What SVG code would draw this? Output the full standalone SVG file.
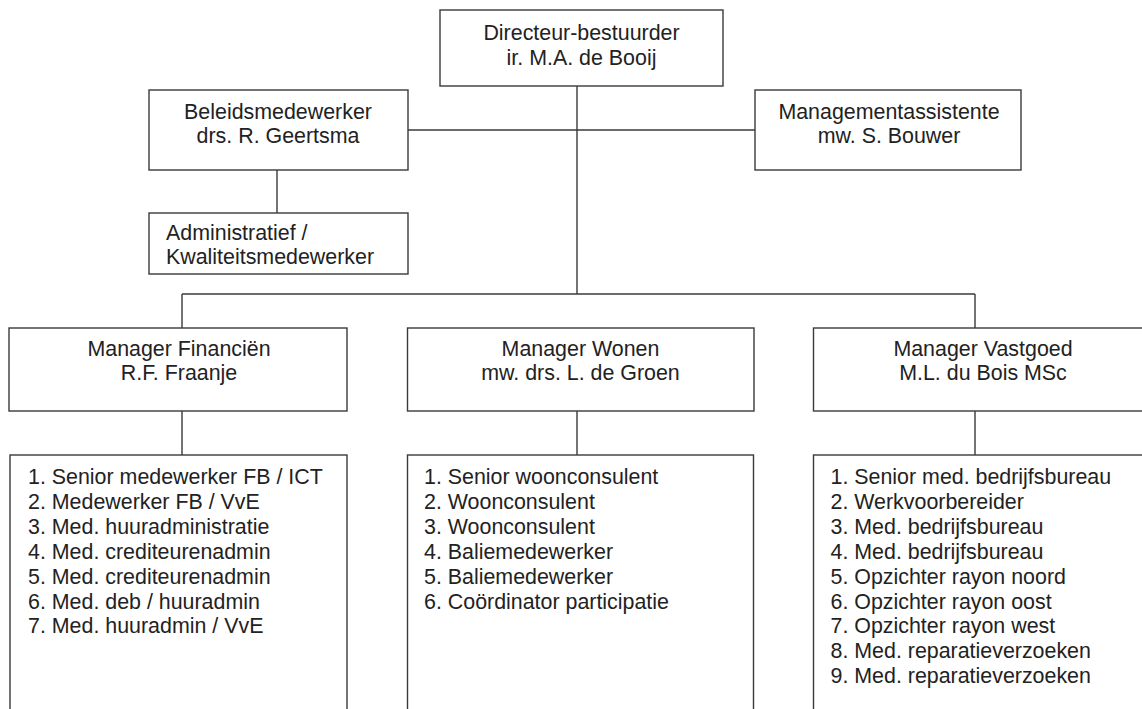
<svg xmlns="http://www.w3.org/2000/svg" width="1142" height="709" viewBox="0 0 1142 709">
<style>
.box{fill:#fff;stroke:#3a3a3a;stroke-width:1.4}
.ln{stroke:#3a3a3a;stroke-width:1.4;fill:none}
text{font-family:"Liberation Sans",Arial,sans-serif;font-size:21.4px;fill:#222}
.c{text-anchor:middle}
</style>
<rect width="1142" height="709" fill="#fff"/>
<g id="connectors">
<line class="ln" x1="577" y1="86" x2="577" y2="294"/>
<line class="ln" x1="408" y1="130" x2="755" y2="130"/>
<line class="ln" x1="277" y1="170" x2="277" y2="213"/>
<line class="ln" x1="182" y1="294" x2="975" y2="294"/>
<line class="ln" x1="182" y1="294" x2="182" y2="328"/>
<line class="ln" x1="975" y1="294" x2="975" y2="328"/>
<line class="ln" x1="182" y1="411" x2="182" y2="455"/>
<line class="ln" x1="577" y1="411" x2="577" y2="455"/>
<line class="ln" x1="975" y1="411" x2="975" y2="455"/>
</g>
<g id="directeur">
<rect class="box" x="440" y="10" width="283" height="76"/>
<text class="c" x="581.5" y="40">Directeur-bestuurder</text>
<text class="c" x="581.5" y="65">ir. M.A. de Booij</text>
</g>
<g id="beleidsmedewerker">
<rect class="box" x="149" y="90" width="259" height="80"/>
<text class="c" x="278" y="119">Beleidsmedewerker</text>
<text class="c" x="278" y="143">drs. R. Geertsma</text>
</g>
<g id="managementassistente">
<rect class="box" x="755" y="90" width="266" height="80"/>
<text class="c" x="889" y="119">Managementassistente</text>
<text class="c" x="889" y="143">mw. S. Bouwer</text>
</g>
<g id="administratief">
<rect class="box" x="149" y="213" width="259" height="61"/>
<text x="166" y="240">Administratief /</text>
<text x="166" y="264">Kwaliteitsmedewerker</text>
</g>
<g id="manager-financien">
<rect class="box" x="9" y="328" width="338" height="83"/>
<text class="c" x="179" y="356">Manager Financiën</text>
<text class="c" x="179" y="380">R.F. Fraanje</text>
</g>
<g id="manager-wonen">
<rect class="box" x="407.5" y="328" width="346.5" height="83"/>
<text class="c" x="580.5" y="356">Manager Wonen</text>
<text class="c" x="580.5" y="380">mw. drs. L. de Groen</text>
</g>
<g id="manager-vastgoed">
<rect class="box" x="813.5" y="328" width="340" height="83"/>
<text class="c" x="983" y="356">Manager Vastgoed</text>
<text class="c" x="983" y="380">M.L. du Bois MSc</text>
</g>
<g id="lijst-financien">
<rect class="box" x="10" y="455" width="337" height="270"/>
<text x="28" y="484">1. Senior medewerker FB / ICT</text>
<text x="28" y="509">2. Medewerker FB / VvE</text>
<text x="28" y="533.8">3. Med. huuradministratie</text>
<text x="28" y="558.7">4. Med. crediteurenadmin</text>
<text x="28" y="583.6">5. Med. crediteurenadmin</text>
<text x="28" y="608.5">6. Med. deb / huuradmin</text>
<text x="28" y="633.4">7. Med. huuradmin / VvE</text>
</g>
<g id="lijst-wonen">
<rect class="box" x="407.5" y="455" width="346" height="270"/>
<text x="424" y="484">1. Senior woonconsulent</text>
<text x="424" y="509">2. Woonconsulent</text>
<text x="424" y="533.8">3. Woonconsulent</text>
<text x="424" y="558.7">4. Baliemedewerker</text>
<text x="424" y="583.6">5. Baliemedewerker</text>
<text x="424" y="608.5">6. Coördinator participatie</text>
</g>
<g id="lijst-vastgoed">
<rect class="box" x="813.5" y="455" width="340" height="270"/>
<text x="830.5" y="484">1. Senior med. bedrijfsbureau</text>
<text x="830.5" y="509">2. Werkvoorbereider</text>
<text x="830.5" y="533.8">3. Med. bedrijfsbureau</text>
<text x="830.5" y="558.7">4. Med. bedrijfsbureau</text>
<text x="830.5" y="583.6">5. Opzichter rayon noord</text>
<text x="830.5" y="608.5">6. Opzichter rayon oost</text>
<text x="830.5" y="633.4">7. Opzichter rayon west</text>
<text x="830.5" y="658.3">8. Med. reparatieverzoeken</text>
<text x="830.5" y="683.2">9. Med. reparatieverzoeken</text>
</g>
</svg>
